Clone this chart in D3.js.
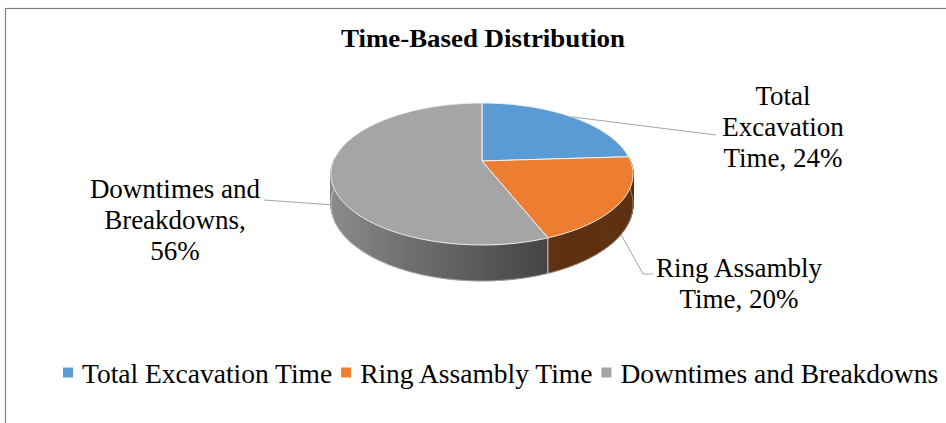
<!DOCTYPE html>
<html>
<head>
<meta charset="utf-8">
<script src="https://cdn.jsdelivr.net/npm/d3@7"></script>
<style>
  body { margin: 0; background: #fff; }
  svg { display: block; }
  text { font-family: "Liberation Serif", "Times New Roman", serif; fill: #000; }
</style>
</head>
<body>
<div id="chart"></div>
<script>
    // chart data
    const categories = ["Total Excavation Time", "Ring Assambly Time", "Downtimes and Breakdowns"];
    const shares = [24, 20, 56];
    const colors = ["#5B9BD5", "#ED7D31", "#A5A5A5"];
    const labelLines = [
        ["Total", "Excavation", "Time, 24%"],
        ["Ring Assambly", "Time, 20%"],
        ["Downtimes and", "Breakdowns,", "56%"]
    ];
    const title = "Time-Based Distribution";

    function create_3d_pie(targetElementId) {
        const width = 946, height = 423;

        const svg = d3.select(`#${targetElementId}`).append("svg")
            .attr("width", width)
            .attr("height", height);

        // frame (right / bottom edges run off the picture)
        svg.append("rect")
            .attr("x", 5.5).attr("y", 8.5)
            .attr("width", 980).attr("height", 440)
            .attr("fill", "none")
            .attr("stroke", "#7f7f7f")
            .attr("stroke-width", 1.2);

        svg.append("text")
            .attr("x", 483).attr("y", 47)
            .attr("text-anchor", "middle")
            .attr("textLength", 284)
            .attr("lengthAdjust", "spacingAndGlyphs")
            .style("font-size", "25px")
            .style("font-weight", "bold")
            .text(title);

        // perspective projection of the tilted disc
        const cx = 482, cy = 161, R = 148.5, K = 68.6, P = -0.183, D = 29.4;
        const proj = (a, h) => {
            const u = Math.sin(a), v = -Math.cos(a);
            const den = 1 + P * v;
            return [cx + R * u / den, cy + (K * v + D * h) / den];
        };

        const pie = d3.pie().sort(null).value(d => d);
        const arcs = pie(shares);

        // side wall, drawn as thin strips back-to-front
        const strips = [];
        arcs.forEach((s, i) => {
            const step = Math.PI / 360;
            for (let a = s.startAngle; a < s.endAngle - 1e-9; a += step) {
                const b = Math.min(a + step * 1.6, s.endAngle);
                const mid = (a + Math.min(a + step, s.endAngle)) / 2;
                const v = -Math.cos(mid);
                if (v < -0.05) continue;
                const u = Math.sin(mid);
                const f = Math.max(0.4, 0.88 - 0.46 * (u + 1) / 1.37);
                const c = d3.rgb(colors[i]);
                strips.push({
                    v: v,
                    pts: [proj(a, 0), proj(b, 0), proj(b, 1), proj(a, 1)],
                    fill: d3.rgb(c.r * f, c.g * f, c.b * f).formatHex()
                });
            }
        });
        strips.sort((p, q) => p.v - q.v);

        svg.append("g").selectAll("path")
            .data(strips)
            .enter()
            .append("path")
                .attr("d", d => "M" + d.pts.join("L") + "Z")
                .attr("fill", d => d.fill)
                .attr("stroke", d => d.fill)
                .attr("stroke-width", 0.6);

        // vertical seam lines where slices meet on the front wall
        arcs.forEach(s => {
            const v = -Math.cos(s.endAngle);
            if (v > 0.2 && s.endAngle < 2 * Math.PI - 1e-6) {
                const t = proj(s.endAngle, 0), b = proj(s.endAngle, 1);
                svg.append("line")
                    .attr("x1", t[0]).attr("y1", t[1])
                    .attr("x2", b[0]).attr("y2", b[1])
                    .attr("stroke", "#d9d9d9").attr("stroke-width", 1);
            }
        });

        // bottom rim
        svg.append("path")
            .attr("d", d3.line()(d3.range(0, 361).map(k => proj(k * Math.PI / 180, 1))))
            .attr("fill", "none")
            .attr("stroke", "#ffffff")
            .attr("stroke-opacity", 0.5)
            .attr("stroke-width", 0.8);

        // top faces
        svg.append("g").selectAll("path")
            .data(arcs)
            .enter()
            .append("path")
                .attr("d", s => {
                    const n = Math.max(8, Math.ceil((s.endAngle - s.startAngle) * 90));
                    const pts = [[cx, cy]];
                    for (let k = 0; k <= n; k++) {
                        pts.push(proj(s.startAngle + (s.endAngle - s.startAngle) * k / n, 0));
                    }
                    return "M" + pts.join("L") + "Z";
                })
                .attr("fill", (s, i) => colors[i])
                .attr("stroke", "#f2f2f2")
                .attr("stroke-width", 1)
                .attr("stroke-linejoin", "round");

        // data labels with leader lines
        const layout = [
            { h: 0, r: 1.0, x: 783, y: 105, lead: [[716, 135]] },
            { h: 1, r: 1.0, x: 739, y: 277, lead: [[643, 274], [653, 274]] },
            { h: 1, r: 1.0, x: 175, y: 198, lead: [[264, 200]] }
        ];
        const fs = 27, lh = 31;

        arcs.forEach((s, i) => {
            const L = layout[i];
            const a = (s.startAngle + s.endAngle) / 2;
            const u = Math.sin(a), v = -Math.cos(a);
            const den = 1 + P * v;
            const p0 = [cx + R * L.r * u / den, cy + (K * L.r * v + D * L.h) / den];
            svg.append("path")
                .attr("d", d3.line()([p0].concat(L.lead)))
                .attr("fill", "none")
                .attr("stroke", "#a6a6a6")
                .attr("stroke-width", 1);

            const t = svg.append("text")
                .attr("text-anchor", "middle")
                .style("font-size", fs + "px");
            labelLines[i].forEach((line, j) => {
                t.append("tspan")
                    .attr("x", L.x)
                    .attr("y", L.y + j * lh)
                    .text(line);
            });
        });

        // legend
        const legend = svg.append("g").attr("transform", "translate(0,383)");
        let lx = 63;
        categories.forEach((c, i) => {
            legend.append("rect")
                .attr("x", lx).attr("y", -15.5)
                .attr("width", 10).attr("height", 10)
                .attr("fill", colors[i]);
            const t = legend.append("text")
                .attr("x", lx + 19).attr("y", 0)
                .style("font-size", "27.5px")
                .text(c);
            lx += 19 + t.node().getComputedTextLength() + 9;
        });
    }

    create_3d_pie("chart");
</script>
</body>
</html>
